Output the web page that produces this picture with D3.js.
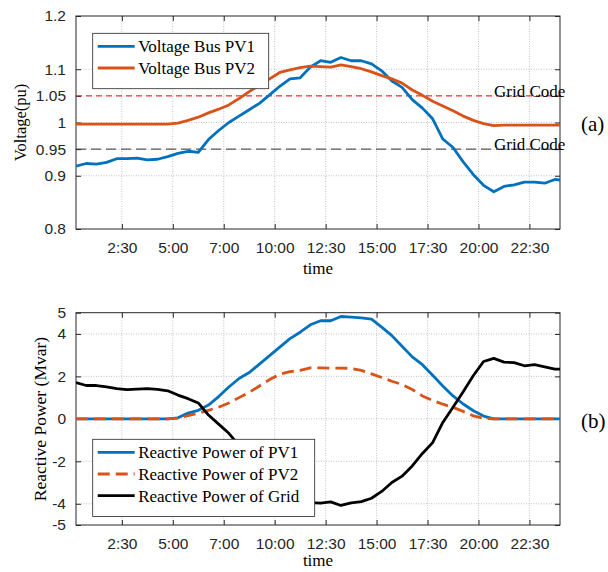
<!DOCTYPE html>
<html>
<head>
<meta charset="utf-8">
<script src="https://cdn.jsdelivr.net/npm/d3@7"></script>
<style>
  body { margin: 0; background: #fff; }
  svg { display: block; }
  .tick text { font-family: "Liberation Sans", Arial, sans-serif; font-size: 15.5px; fill: #262626; }
  .serif { font-family: "Liberation Serif", "Times New Roman", serif; fill: #000; }
</style>
</head>
<body>
<svg id="chart" width="608" height="572"></svg>
<script>
// sample number (96 quarter-hours in the day)
var sample = [1,3,5,7,9,11,13,15,17,19,21,23,25,27,29,31,33,35,37,39,41,43,45,47,
  49,51,53,55,57,59,61,63,65,67,69,71,73,75,77,79,81,83,85,87,89,91,93,95,96];

var voltPV1 = [0.918,0.923,0.922,0.925,0.932,0.932,0.933,0.930,0.931,0.936,0.942,0.946,0.944,0.968,
  0.985,1.000,1.012,1.024,1.036,1.052,1.068,1.082,1.084,1.104,1.116,1.113,1.122,1.116,1.116,1.110,
  1.097,1.078,1.066,1.043,1.027,1.007,0.969,0.953,0.926,0.902,0.882,0.870,0.880,0.883,0.888,0.888,
  0.886,0.893,0.892];
var voltPV2 = [0.997,0.997,0.997,0.997,0.997,0.997,0.997,0.997,0.997,0.997,0.999,1.004,1.010,1.018,
  1.025,1.033,1.045,1.058,1.070,1.082,1.094,1.099,1.103,1.106,1.105,1.104,1.108,1.105,1.101,1.095,
  1.088,1.082,1.074,1.061,1.051,1.040,1.031,1.022,1.012,1.004,0.998,0.994,0.995,0.995,0.995,0.995,
  0.995,0.995,0.995];

var qPV1 = [0,0,0,0,0,0,0,0,0,0,0.05,0.27,0.40,0.65,1.05,1.50,1.90,2.18,2.58,2.98,3.38,3.78,4.08,
  4.43,4.62,4.62,4.82,4.79,4.76,4.70,4.32,3.92,3.42,2.92,2.55,2.05,1.55,1.08,0.70,0.38,0.13,0,0,0,
  0,0,0,0,0];
var qPV2 = [0,0,0,0,0,0,0,0,0,0,0.03,0.15,0.26,0.40,0.55,0.75,1.00,1.25,1.55,1.85,2.10,2.22,2.28,
  2.40,2.40,2.39,2.39,2.38,2.28,2.12,1.95,1.77,1.62,1.38,1.08,0.87,0.69,0.54,0.35,0.14,0.02,0,0,0,
  0,0,0,0,0];
var qGrid = [1.71,1.57,1.57,1.51,1.42,1.38,1.40,1.42,1.39,1.32,1.12,0.95,0.75,0.18,-0.25,-0.68,-1.25,
  -1.80,-2.35,-2.85,-3.30,-3.65,-3.89,-3.95,-3.97,-3.91,-4.08,-3.96,-3.90,-3.74,-3.42,-3.00,-2.70,
  -2.22,-1.63,-1.12,-0.17,0.55,1.28,2.04,2.70,2.85,2.67,2.65,2.50,2.55,2.45,2.34,2.34];

var xTicks = [10,20,30,40,50,60,70,80,90];
var xTickLabels = ["2:30","5:00","7:00","10:00","12:30","15:00","17:30","20:00","22:30"];
var vTicks = [0.8,0.9,0.95,1,1.05,1.1,1.2];
var vTickLabels = ["0.8","0.9","0.95","1","1.05","1.1","1.2"];
var qTicks = [-5,-4,-2,0,2,4,5];
var qTickLabels = ["-5","-4","-2","0","2","4","5"];
var gridCodeLimits = [1.05, 0.95];

var blue = "#0072BD", orange = "#D95319";
var svg = d3.select("#chart");
var left = 76, right = 560;
var lw = 2.8;

var x = d3.scaleLinear().domain([1, 96]).range([left, right]);

function panel(top, bottom, yDomain, yTicks, yLabels, id, timeGap) {
  var y = d3.scaleLinear().domain(yDomain).range([bottom, top]);
  var g = svg.append("g");

  g.append("clipPath").attr("id", id).append("rect")
    .attr("x", left).attr("y", top).attr("width", right - left).attr("height", bottom - top);

  // dotted grid
  g.selectAll(".vg").data(xTicks).enter().append("line")
    .attr("x1", d => x(d)).attr("x2", d => x(d)).attr("y1", top).attr("y2", bottom)
    .attr("stroke", "#b4b4b4").attr("stroke-width", 0.8).attr("stroke-dasharray", "1,1.5");
  g.selectAll(".hg").data(yTicks.filter(d => d > yDomain[0] && d < yDomain[1])).enter().append("line")
    .attr("x1", left).attr("x2", right).attr("y1", d => y(d)).attr("y2", d => y(d))
    .attr("stroke", "#b4b4b4").attr("stroke-width", 0.8).attr("stroke-dasharray", "1,1.5");

  // axes with inward ticks on all four sides
  g.append("g").attr("transform", "translate(0," + bottom + ")")
    .call(d3.axisBottom(x).tickValues(xTicks).tickSize(-5).tickPadding(13)
      .tickFormat((d, i) => xTickLabels[i]));
  g.append("g").attr("transform", "translate(0," + top + ")")
    .call(d3.axisTop(x).tickValues(xTicks).tickSize(-5).tickFormat(""));
  g.append("g").attr("transform", "translate(" + left + ",0)")
    .call(d3.axisLeft(y).tickValues(yTicks).tickSize(-5).tickPadding(10)
      .tickFormat((d, i) => yLabels[i]));
  g.append("g").attr("transform", "translate(" + right + ",0)")
    .call(d3.axisRight(y).tickValues(yTicks).tickSize(-5).tickFormat(""));
  g.selectAll(".domain").remove();
  g.selectAll(".tick line").attr("stroke", "#262626");

  g.append("rect").attr("x", left).attr("y", top).attr("width", right - left).attr("height", bottom - top)
    .attr("fill", "none").attr("stroke", "#262626").attr("stroke-width", 1);

  g.append("text").attr("class", "serif").attr("x", (left + right) / 2).attr("y", bottom + timeGap)
    .attr("text-anchor", "middle").style("font-size", "17px").text("time");
  return { g: g, y: y };
}

function drawLine(p, id, values, color, dash) {
  var line = d3.line().x((d, i) => x(sample[i])).y(d => p.y(d));
  p.g.append("path").datum(values)
    .attr("clip-path", "url(#" + id + ")")
    .attr("d", line).attr("fill", "none").attr("stroke", color)
    .attr("stroke-width", lw).attr("stroke-linejoin", "round")
    .attr("stroke-dasharray", dash || null);
}

function legend(p, x0, y0, w, items) {
  var rowH = 21.7;
  var lg = p.g.append("g");
  lg.append("rect").attr("x", x0).attr("y", y0).attr("width", w).attr("height", 12 + rowH * items.length)
    .attr("fill", "#fff").attr("stroke", "#262626").attr("stroke-width", 0.8);
  items.forEach(function(it, i) {
    var cy = y0 + 13 + i * rowH;
    lg.append("line").attr("x1", x0 + 5).attr("x2", x0 + 42).attr("y1", cy).attr("y2", cy)
      .attr("stroke", it.color).attr("stroke-width", lw).attr("stroke-dasharray", it.dash || null);
    lg.append("text").attr("class", "serif").attr("x", x0 + 45.5).attr("y", cy + 6)
      .style("font-size", "17px").text(it.label);
  });
}

// (a) voltage
var pa = panel(16, 229, [0.8, 1.2], vTicks, vTickLabels, "clipA", 45);
pa.g.append("line").attr("x1", left).attr("x2", right)
  .attr("y1", pa.y(gridCodeLimits[0])).attr("y2", pa.y(gridCodeLimits[0]))
  .attr("stroke", "#ff0000").attr("stroke-width", 1).attr("stroke-dasharray", "6,4");
pa.g.append("line").attr("x1", left).attr("x2", right)
  .attr("y1", pa.y(gridCodeLimits[1])).attr("y2", pa.y(gridCodeLimits[1]))
  .attr("stroke", "#333").attr("stroke-width", 1).attr("stroke-dasharray", "10,5");
drawLine(pa, "clipA", voltPV1, blue);
drawLine(pa, "clipA", voltPV2, orange);
gridCodeLimits.forEach(function(v) {
  pa.g.append("text").attr("class", "serif").attr("x", 494).attr("y", pa.y(v) + 1)
    .style("font-size", "17px").text("Grid Code");
});
legend(pa, 92.7, 33.3, 176, [
  { label: "Voltage Bus PV1", color: blue },
  { label: "Voltage Bus PV2", color: orange }
]);
svg.append("text").attr("class", "serif").attr("transform", "translate(26,122.5) rotate(-90)")
  .attr("text-anchor", "middle").style("font-size", "16.5px").text("Voltage(pu)");
svg.append("text").attr("class", "serif").attr("x", 581).attr("y", 131)
  .style("font-size", "21px").text("(a)");

// (b) reactive power
var pb = panel(312.7, 525, [-5, 5], qTicks, qTickLabels, "clipB", 41);
drawLine(pb, "clipB", qPV1, blue);
drawLine(pb, "clipB", qPV2, orange, "12,6");
drawLine(pb, "clipB", qGrid, "#000");
legend(pb, 92.7, 439.3, 222, [
  { label: "Reactive Power of PV1", color: blue },
  { label: "Reactive Power of PV2", color: orange, dash: "12,6" },
  { label: "Reactive Power of Grid", color: "#000" }
]);
svg.append("text").attr("class", "serif").attr("transform", "translate(46,419) rotate(-90)")
  .attr("text-anchor", "middle").style("font-size", "17.5px").text("Reactive Power (Mvar)");
svg.append("text").attr("class", "serif").attr("x", 581).attr("y", 428)
  .style("font-size", "21px").text("(b)");
</script>
</body>
</html>
